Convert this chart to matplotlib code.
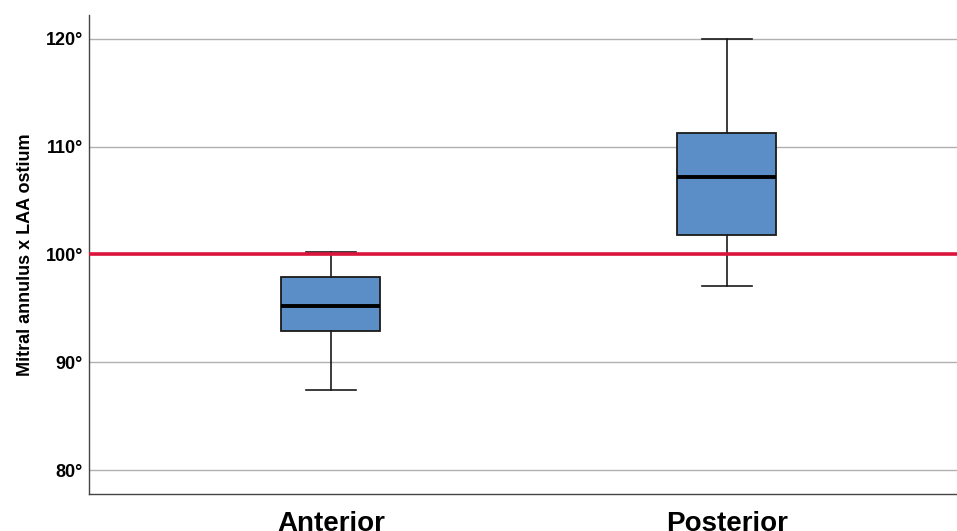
import matplotlib
matplotlib.use("Agg")
import matplotlib.pyplot as plt

categories = ["Anterior", "Posterior"]
whisker_low = [87.45, 97.1]
q1 = [92.9, 101.85]
median = [95.2, 107.2]
q3 = [97.9, 111.3]
whisker_high = [100.2, 120.0]
reference_value = 100
yticks = [80, 90, 100, 110, 120]
ytick_labels = ["80°", "90°", "100°", "110°", "120°"]
ylabel = "Mitral annulus x LAA ostium"

plt.rcParams['font.family'] = ['Liberation Sans', 'DejaVu Sans']

fig = plt.figure(figsize=(9.57, 5.31), dpi=100)
ax = fig.add_axes([0.093, 0.0697, 0.907, 0.9021])

stats = []
for i, c in enumerate(categories):
    stats.append(dict(label=c, whislo=whisker_low[i], q1=q1[i], med=median[i],
                      q3=q3[i], whishi=whisker_high[i], fliers=[]))

ax.bxp(stats, positions=range(len(categories)), widths=0.25, patch_artist=True,
       showfliers=False,
       boxprops=dict(facecolor="#5B8EC6", edgecolor="#1a1a1a", linewidth=1.3),
       medianprops=dict(color="black", linewidth=2.8),
       whiskerprops=dict(color="#1a1a1a", linewidth=1.2),
       capprops=dict(color="#1a1a1a", linewidth=1.2),
       capwidths=0.125, zorder=3)

ax.axhline(reference_value, color="#DC143C", linewidth=2.6, zorder=4)

ax.set_xlim(-0.611, 1.581)
ax.set_ylim(77.8, 122.2)
ax.set_yticks(yticks)
ax.set_yticklabels(ytick_labels, fontsize=13, fontweight="bold")
ax.set_xticks(range(len(categories)))
ax.set_xticklabels(categories, fontsize=20, fontweight="bold")
ax.tick_params(axis="both", length=0)
ax.tick_params(axis="y", pad=4.5)
ax.tick_params(axis="x", pad=12)
ax.grid(axis="y", color="#b0b0b0", linewidth=1.0, zorder=0)
ax.set_axisbelow(True)
for s in ["top", "right"]:
    ax.spines[s].set_visible(False)
for s in ["left", "bottom"]:
    ax.spines[s].set_color("#444444")
    ax.spines[s].set_linewidth(1.0)
ax.set_ylabel(ylabel, fontsize=13, fontweight="bold", labelpad=8)

fig.savefig("out.png", dpi=100)
